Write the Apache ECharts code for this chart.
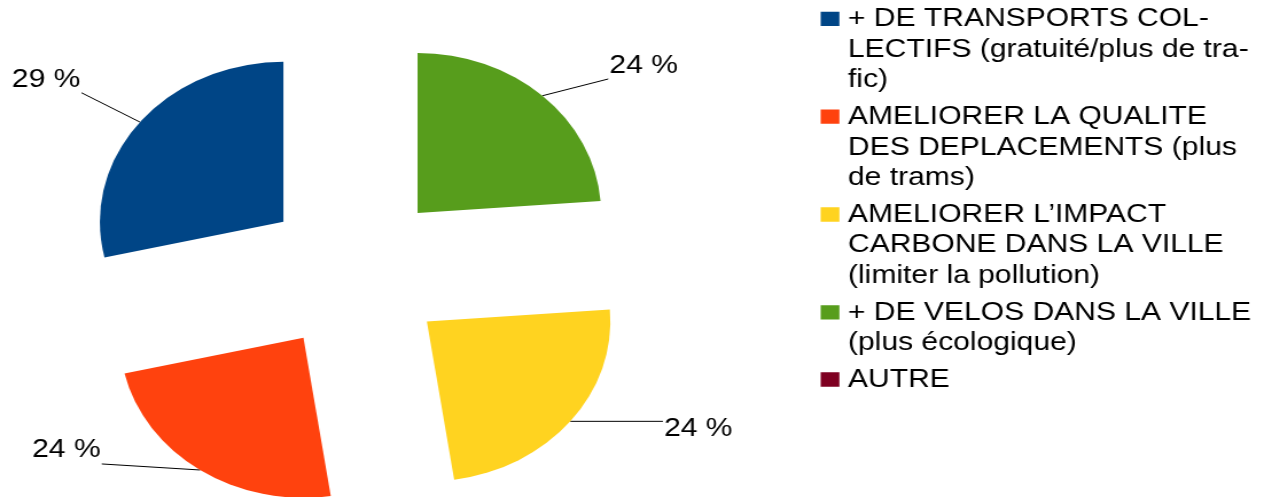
<!DOCTYPE html>
<html>
<head>
<meta charset="utf-8">
<script src="https://cdn.jsdelivr.net/npm/echarts@6/dist/echarts.min.js"></script>
<style>
html, body { margin: 0; padding: 0; background: #ffffff; width: 1264px; height: 497px; overflow: hidden; }
#chart { width: 1102px; height: 497px; transform: scaleX(1.147); transform-origin: 0 0; }
</style>
</head>
<body>
<div id="chart"></div>
<script>
// ---- data ----
const categories = [
  '+ DE TRANSPORTS COL-\nLECTIFS (gratuité/plus de tra-\nfic)',
  'AMELIORER LA QUALITE\nDES DEPLACEMENTS (plus\nde trams)',
  'AMELIORER L\u2019IMPACT\nCARBONE DANS LA VILLE\n(limiter la pollution)',
  '+ DE VELOS DANS LA VILLE\n(plus écologique)',
  'AUTRE'
];
const values = [12, 10, 10, 10, 0];
const colors = ['#004586', '#ff420e', '#ffd320', '#579d1c', '#7e0021'];

// ---- styling / layout (not data) ----
const FONT = '"Liberation Sans", Arial, sans-serif';
const FONT_SIZE = 26.2;
const LINE_H = 30.6;
const LEGEND_LEFT = 715.5;
const LEGEND_TOP = 3.6;
const LEGEND_GAP = 6;
const ICON_W = 16.3, ICON_H = 14.3, ICON_BOX_W = 18.8;
const labelPlacement = {
  0: { length: 47, length2: 14.2, dy: -13.4 },
  1: { length: -7.3, length2: 89.8, dy: -13.7 },
  2: { length: 0, length2: 80.7, dy: 7.2 },
  3: { length: 22.9, length2: 41.9, dy: -13.3 }
};

const seriesData = categories.map(function (name, i) {
  const visible = values[i] > 0;
  const lp = labelPlacement[i] || { length: 10, length2: 10 };
  return {
    name: name,
    value: values[i],
    selected: true,
    itemStyle: { color: colors[i] },
    label: { show: visible },
    labelLine: { show: visible, length: lp.length, length2: lp.length2 }
  };
});

// one legend block per entry, so the square sits beside the first text line
let legendTop = LEGEND_TOP;
const legends = categories.map(function (name) {
  const n = name.split('\n').length;
  const h = n * LINE_H;
  const y0 = (LINE_H - ICON_H) / 2;
  const iconPath = 'path://M0 0 L' + ICON_BOX_W + ' 0 Z ' +
    'M0 ' + y0 + ' L' + ICON_W + ' ' + y0 + ' L' + ICON_W + ' ' + (y0 + ICON_H) + ' L0 ' + (y0 + ICON_H) + ' Z ' +
    'M0 ' + h + ' L' + ICON_BOX_W + ' ' + h + ' Z';
  const lg = {
    orient: 'vertical',
    left: LEGEND_LEFT,
    top: legendTop,
    padding: 0,
    itemWidth: ICON_BOX_W,
    itemHeight: h,
    icon: iconPath,
    selectedMode: false,
    itemStyle: { borderWidth: 0 },
    data: [name],
    textStyle: { fontFamily: FONT, fontSize: FONT_SIZE, color: '#000000', lineHeight: LINE_H }
  };
  legendTop += h + LEGEND_GAP;
  return lg;
});

const chart = echarts.init(document.getElementById('chart'));
chart.setOption({
  animation: false,
  backgroundColor: '#ffffff',
  legend: legends,
  series: [{
    type: 'pie',
    center: [309.6, 271.7],
    radius: 160,
    startAngle: 90,
    clockwise: false,
    selectedMode: 'multiple',
    selectedOffset: 80,
    avoidLabelOverlap: false,
    silent: true,
    emphasis: { disabled: true, scale: false },
    select: { itemStyle: { borderWidth: 0 }, label: { color: '#000000' } },
    itemStyle: { borderWidth: 0 },
    label: {
      show: true,
      position: 'outside',
      fontFamily: FONT,
      fontSize: FONT_SIZE,
      color: '#000000',
      distanceToLabelLine: 1,
      formatter: function (p) { return Math.round(p.percent) + ' %'; }
    },
    labelLine: { show: true, lineStyle: { color: '#000000', width: 1 } },
    labelLayout: function (params) {
      const t = labelPlacement[params.dataIndex];
      if (!t) return {};
      const out = { dy: t.dy };
      const pts = params.labelLinePoints;
      if (pts && pts.length >= 2) out.labelLinePoints = [pts[0], pts[pts.length - 1]];
      return out;
    },
    data: seriesData
  }]
});
</script>
</body>
</html>
